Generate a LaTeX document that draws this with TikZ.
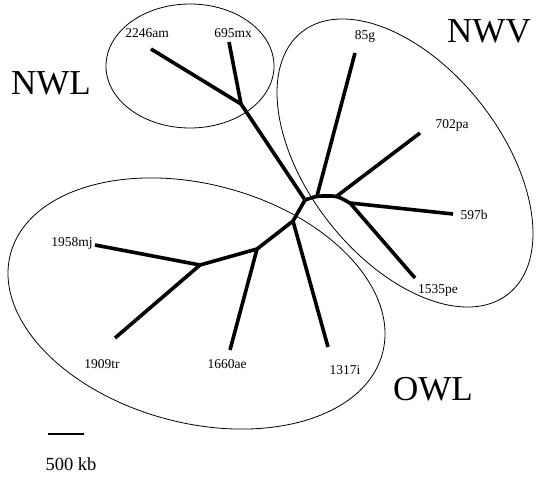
\documentclass[tikz,border=0pt]{standalone}
\usepackage{fontspec}
\setmainfont{Liberation Serif}
\begin{document}
\begin{tikzpicture}[x=1pt,y=-1pt,
  tree/.style={line width=3.6pt, line join=round},
  ring/.style={line width=0.8pt},
  leaf/.style={font=\fontsize{13.5}{15}\selectfont, inner sep=0pt},
  group/.style={font=\fontsize{35}{40}\selectfont, inner sep=0pt, anchor=base},
  scalebar/.style={line width=2.6pt}]
\useasboundingbox (0,0) rectangle (537,476);
% group ellipses
\draw[ring] (190,66) ellipse [x radius=84pt, y radius=62pt];
\draw[ring, rotate around={-51.8:(405,163)}] (405,163) ellipse [x radius=166.8pt, y radius=96.4pt];
\draw[ring, rotate around={-15:(196.5,303.5)}] (196.5,303.5) ellipse [x radius=192.5pt, y radius=119.3pt];
% tree points
\coordinate (a2246) at (151,49);
\coordinate (a695) at (229,42);
\coordinate (j1) at (241,104);
\coordinate (j2) at (305,200);
\coordinate (k1) at (317,196);
\coordinate (k2) at (337,196);
\coordinate (k3) at (350,203);
\coordinate (j4) at (293,221);
\coordinate (j5) at (257,249);
\coordinate (j6) at (200,265);
\coordinate (a85) at (355,53);
\coordinate (a702) at (420,133);
\coordinate (a597) at (453,214);
\coordinate (a1535) at (415,278);
\coordinate (a1317) at (328,347);
\coordinate (a1660) at (230,350);
\coordinate (a1958) at (95,245);
\coordinate (a1909) at (115,338);
% tree
\draw[tree] (a2246) -- (j1);
\draw[tree] (a695) -- (j1);
\draw[tree] (j1) -- (j2);
\draw[tree, rounded corners=5pt] (j2) -- (k1) -- (k2) -- (k3);
\draw[tree] (k1) -- (a85);
\draw[tree] (k2) -- (a702);
\draw[tree] (k3) -- (a597);
\draw[tree] (k3) -- (a1535);
\draw[tree] (j2) -- (j4);
\draw[tree] (j4) -- (a1317);
\draw[tree] (j4) -- (j5);
\draw[tree] (j5) -- (a1660);
\draw[tree] (j5) -- (j6);
\draw[tree] (j6) -- (a1958);
\draw[tree] (j6) -- (a1909);
% leaf labels
\node[leaf] (t2246) at (147,33) {2246am};
\node[leaf] (t695) at (233,33) {695mx};
\node[leaf] (t85) at (365,36) {85g};
\node[leaf] (t702) at (452,125) {702pa};
\node[leaf] (t597) at (474,215) {597b};
\node[leaf] (t1535) at (438,290) {1535pe};
\node[leaf] (t1317) at (345,370) {1317i};
\node[leaf] (t1660) at (227,364) {1660ae};
\node[leaf] (t1909) at (102,364) {1909tr};
\node[leaf] (t1958) at (72,243) {1958mj};
% group labels
\node[group] (gnwl) at (51,95) {NWL};
\node[group] (gnwv) at (489,43) {NWV};
\node[group] (gowl) at (433,400) {OWL};
% scale bar
\coordinate (s1) at (48,434);
\coordinate (s2) at (84,434);
\draw[scalebar] (s1) -- (s2);
\node[font=\fontsize{18.5}{20}\selectfont, inner sep=0pt, anchor=base] (sbl) at (71,470) {500 kb};
\end{tikzpicture}
\end{document}
